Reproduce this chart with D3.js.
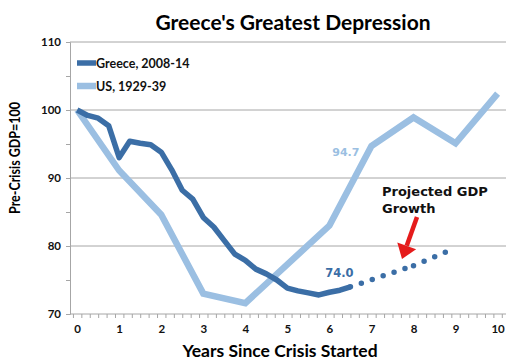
<!DOCTYPE html>
<html>
<head>
<meta charset="utf-8">
<script src="https://cdn.jsdelivr.net/npm/d3@7"></script>
<style>
  html, body { margin: 0; padding: 0; background: #fff; }
  svg { display: block; }
</style>
</head>
<body>
<svg id="chart" width="512" height="362"></svg>
<script>
// Greece quarterly real GDP, pre-crisis = 100
const greeceYears = [0, 0.25, 0.5, 0.75, 1, 1.25, 1.5, 1.75, 2, 2.25, 2.5, 2.75, 3, 3.25, 3.5, 3.75,
  4, 4.25, 4.5, 4.75, 5, 5.25, 5.5, 5.75, 6, 6.25, 6.5];
const greeceValues = [100, 99.2, 98.8, 97.7, 93.0, 95.4, 95.1, 94.9, 93.8, 91.2, 88.2, 86.9, 84.2, 82.8, 80.8, 78.8,
  77.9, 76.6, 75.9, 75.0, 73.8, 73.4, 73.1, 72.8, 73.2, 73.5, 74.0];

// projection, drawn dotted
const projYears = [6.5, 8, 9];
const projValues = [74.0, 77.1, 79.7];

// US annual, 1929-39
const usYears = [0, 1, 2, 3, 4, 5, 6, 7, 8, 9, 10];
const usValues = [100, 91.1, 84.6, 73.0, 71.6, 77.3, 83.0, 94.7, 98.9, 95.1, 102.4];

const yTicks = [70, 80, 90, 100, 110];
const yMinor = [75, 85, 95, 105];
const xTicks = [0, 1, 2, 3, 4, 5, 6, 7, 8, 9, 10];

const darkBlue = '#3b6ea6';
const lightBlue = '#9bbfe2';

const svg = d3.select('#chart');

const x = d3.scaleLinear().domain([-0.17, 10.2]).range([70, 506]);
const y = d3.scaleLinear().domain([70, 110]).range([314, 42]);

// gridlines
svg.append('g')
  .selectAll('line')
  .data(yTicks.filter(d => d > 70))
  .enter()
  .append('line')
  .attr('x1', x.range()[0])
  .attr('x2', x.range()[1])
  .attr('y1', d => y(d))
  .attr('y2', d => y(d))
  .attr('stroke', '#a6a6a6')
  .attr('stroke-width', 1);

// y axis
svg.append('g')
  .attr('transform', 'translate(70,0)')
  .call(d3.axisLeft(y).tickValues(yTicks).tickSize(4).tickPadding(5));
svg.append('g')
  .attr('transform', 'translate(70,0)')
  .call(d3.axisLeft(y).tickValues(yMinor).tickSize(4).tickFormat(''))
  .call(g => g.select('.domain').remove());

// x axis with minor ticks
const minorX = d3.range(-0.1, 10.2, 0.2).map(d => +d.toFixed(2));
svg.append('g')
  .attr('transform', 'translate(0,314)')
  .call(d3.axisBottom(x).tickValues(minorX).tickSize(4).tickFormat(''))
  .call(g => g.select('.domain').attr('d', `M${x.range()[0]},0H${x.range()[1]}`));
const xAxis = svg.append('g')
  .attr('transform', 'translate(0,314)')
  .call(d3.axisBottom(x).tickValues(xTicks).tickSize(0).tickPadding(11));
xAxis.select('.domain').remove();

svg.selectAll('.domain, .tick line').attr('stroke', '#a6a6a6');
svg.selectAll('.tick text')
  .attr('font-family', 'Lato, sans-serif')
  .attr('font-weight', 'bold')
  .attr('font-size', 11.5)
  .attr('fill', '#111');

const line = d3.line()
  .x(d => x(d[0]))
  .y(d => y(d[1]));

// US line
svg.append('path')
  .attr('d', line(d3.zip(usYears, usValues)))
  .attr('fill', 'none')
  .attr('stroke', lightBlue)
  .attr('stroke-width', 6.5)
  .attr('stroke-linejoin', 'miter');

// Greece line
svg.append('path')
  .attr('d', line(d3.zip(greeceYears, greeceValues)))
  .attr('fill', 'none')
  .attr('stroke', darkBlue)
  .attr('stroke-width', 5.5)
  .attr('stroke-linejoin', 'round');

// projection, dotted; each segment restarts its dot pattern
const proj = d3.zip(projYears, projValues);
svg.append('g')
  .selectAll('path')
  .data(d3.pairs(proj))
  .enter()
  .append('path')
  .attr('d', d => line(d))
  .attr('fill', 'none')
  .attr('stroke', darkBlue)
  .attr('stroke-width', 5.5)
  .attr('stroke-linecap', 'round')
  .attr('stroke-dasharray', '0 11.5');

// data labels
svg.append('text')
  .attr('x', x(7) - 12)
  .attr('y', y(94.7) + 10)
  .attr('text-anchor', 'end')
  .attr('font-family', 'DejaVu Sans, sans-serif')
  .attr('font-weight', 'bold')
  .attr('font-size', 11)
  .attr('fill', lightBlue)
  .text('94.7');

svg.append('text')
  .attr('x', x(6.5) - 11)
  .attr('y', y(74.0) - 10)
  .attr('text-anchor', 'middle')
  .attr('font-family', 'DejaVu Sans, sans-serif')
  .attr('font-weight', 'bold')
  .attr('font-size', 11.5)
  .attr('fill', darkBlue)
  .text('74.0');

// annotation
const note = svg.append('text')
  .attr('x', 382)
  .attr('y', 196)
  .attr('font-family', 'DejaVu Sans, sans-serif')
  .attr('font-weight', 'bold')
  .attr('font-size', 13)
  .attr('fill', '#111');
note.append('tspan').attr('x', 382).text('Projected GDP');
note.append('tspan').attr('x', 382).attr('dy', 16.5).text('Growth');

// red arrow
const ax1 = 417, ay1 = 217, ax2 = 402, ay2 = 259;
const ang = Math.atan2(ay2 - ay1, ax2 - ax1);
const headLen = 14, headW = 10;
const bx = ax2 - headLen * Math.cos(ang), by = ay2 - headLen * Math.sin(ang);
svg.append('line')
  .attr('x1', ax1).attr('y1', ay1)
  .attr('x2', bx).attr('y2', by)
  .attr('stroke', '#e51b1b')
  .attr('stroke-width', 4.5);
svg.append('path')
  .attr('d', `M${ax2},${ay2}L${bx + headW * Math.sin(ang)},${by - headW * Math.cos(ang)}L${bx - headW * Math.sin(ang)},${by + headW * Math.cos(ang)}Z`)
  .attr('fill', '#e51b1b');

// legend
const legend = [
  { name: 'Greece, 2008-14', color: darkBlue, w: 5.5 },
  { name: 'US, 1929-39', color: lightBlue, w: 6.5 }
];
const lg = svg.append('g')
  .selectAll('g')
  .data(legend)
  .enter()
  .append('g')
  .attr('transform', (d, i) => `translate(77,${63 + i * 23})`);
lg.append('line')
  .attr('x1', 0).attr('x2', 19)
  .attr('stroke', d => d.color)
  .attr('stroke-width', d => d.w);
lg.append('text')
  .attr('x', 19)
  .attr('y', 4.5)
  .attr('font-family', 'Lato, sans-serif')
  .attr('font-weight', 'bold')
  .attr('font-size', 12.5)
  .attr('fill', '#111')
  .text(d => d.name);

// titles
svg.append('text')
  .attr('x', 293)
  .attr('y', 30)
  .attr('text-anchor', 'middle')
  .attr('font-family', 'Lato, sans-serif')
  .attr('font-weight', 'bold')
  .attr('font-size', 21)
  .attr('fill', '#000')
  .text("Greece's Greatest Depression");

svg.append('text')
  .attr('x', 280)
  .attr('y', 357)
  .attr('text-anchor', 'middle')
  .attr('font-family', 'Lato, sans-serif')
  .attr('font-weight', 'bold')
  .attr('font-size', 17.5)
  .attr('fill', '#000')
  .text('Years Since Crisis Started');

svg.append('text')
  .attr('transform', 'translate(20,158) rotate(-90)')
  .attr('text-anchor', 'middle')
  .attr('font-family', 'Lato, sans-serif')
  .attr('font-weight', 'bold')
  .attr('font-size', 14.5)
  .attr('textLength', 112)
  .attr('lengthAdjust', 'spacingAndGlyphs')
  .attr('fill', '#000')
  .text('Pre-Crisis GDP=100');
</script>
</body>
</html>
